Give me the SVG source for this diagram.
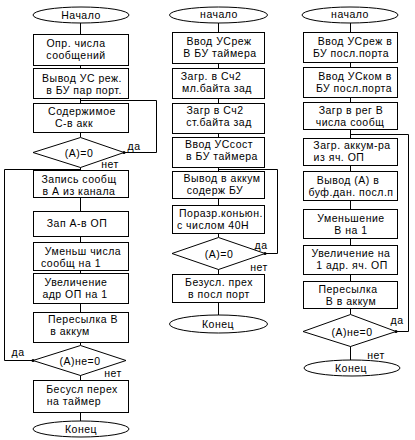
<svg xmlns="http://www.w3.org/2000/svg" width="415" height="440" viewBox="0 0 415 440">
<style>
.n{fill:#fff;stroke:#000;stroke-width:1}
.c{fill:none;stroke:#000;stroke-width:1}
text{font-family:"Liberation Sans",Arial,sans-serif;font-size:10.5px;letter-spacing:0.5px;fill:#000;text-anchor:middle}
.dot{fill:#000}
</style>
<rect width="415" height="440" fill="#fff"/>
<g id="connectors">
<path class="c" d="M80.5 23V34M80.5 65V68M80.5 98V103M80.5 100.5H156.5V152.5H124M80.5 132V137M80.5 167V170M80.5 169.5H4.5V360.5H33M80.5 197V211M80.5 236V242M80.5 270V273M80.5 303V312M80.5 342V345M80.5 375V380M80.5 412V421"/>
<path class="c" d="M218.5 23V32M218.5 63V68M218.5 98V103M218.5 133V137M218.5 167V171M218.5 169.5H277.5V253.5H265M218.5 198V205M218.5 233V237M218.5 269V274M218.5 302V315"/>
<path class="c" d="M350.5 23V32M350.5 62V67M350.5 97V102M350.5 129V138M350.5 134.5H408.5V331.5H396M350.5 165V171M350.5 200V209M350.5 238V245M350.5 274V281M350.5 308V314M350.5 346V360"/>
<circle class="dot" cx="124" cy="152.5" r="1.5"/>
<circle class="dot" cx="265" cy="253.5" r="1.5"/>
<circle class="dot" cx="396" cy="331.5" r="1.5"/>
<circle class="dot" cx="33" cy="360.5" r="1.5"/>
<text x="134" y="150">да</text>
<text x="110" y="168">нет</text>
<text x="18" y="356">да</text>
<text x="113" y="377">нет</text>
<text x="261" y="249">да</text>
<text x="259" y="271">нет</text>
<text x="397" y="324">да</text>
<text x="376" y="359">нет</text>
</g>
<g id="l-start"><ellipse class="n" cx="81" cy="15" rx="48" ry="8"/><text x="81" y="19">Начало</text></g>
<g id="l-1"><rect class="n" x="33.5" y="34.5" width="95" height="31"/><text x="76" y="47">Опр. числа</text><text x="76" y="59">сообщений</text></g>
<g id="l-2"><rect class="n" x="33.5" y="68.5" width="95" height="30"/><text x="82" y="82">Вывод УС реж.</text><text x="84" y="94"> в БУ пар порт.</text></g>
<g id="l-3"><rect class="n" x="33.5" y="103.5" width="95" height="29"/><text x="82" y="115">Содержимое</text><text x="74" y="127">С-в акк</text></g>
<g id="l-d1"><polygon class="n" points="80.5,137.5 124,152.5 80.5,167.5 33,152.5"/><text x="79" y="157">(A)=0</text></g>
<g id="l-4"><rect class="n" x="33.5" y="170.5" width="95" height="27"/><text x="79" y="183">Запись сообщ</text><text x="79" y="195">в А из канала</text></g>
<g id="l-5"><rect class="n" x="33.5" y="211.5" width="95" height="25"/><text x="77" y="227">Зап А-в ОП</text></g>
<g id="l-6"><rect class="n" x="33.5" y="242.5" width="95" height="28"/><text x="83" y="255">Уменьш числа</text><text x="71" y="267">сообщ на 1</text></g>
<g id="l-7"><rect class="n" x="33.5" y="273.5" width="95" height="30"/><text x="76" y="286">Увеличение</text><text x="75" y="298">адр ОП на 1</text></g>
<g id="l-8"><rect class="n" x="33.5" y="312.5" width="95" height="30"/><text x="83" y="323">Пересылка В</text><text x="70" y="335">в аккум</text></g>
<g id="l-d2"><polygon class="n" points="80.5,345.5 126,360.5 80.5,375.5 33,360.5"/><text x="80" y="365">(А)не=0</text></g>
<g id="l-9"><rect class="n" x="33.5" y="380.5" width="95" height="32"/><text x="82" y="393">Бесусл перех</text><text x="74" y="405">на таймер</text></g>
<g id="l-end"><ellipse class="n" cx="81" cy="429" rx="48" ry="8"/><text x="81" y="433">Конец</text></g>

<g id="m-start"><ellipse class="n" cx="218.5" cy="15" rx="49" ry="8"/><text x="219" y="18">начало</text></g>
<g id="m-1"><rect class="n" x="172.5" y="32.5" width="92" height="31"/><text x="219" y="45">Ввод УСреж</text><text x="220" y="57">В БУ таймера</text></g>
<g id="m-2"><rect class="n" x="172.5" y="68.5" width="92" height="30"/><text x="211" y="80">Загр. в Сч2</text><text x="217" y="92">мл.байта зад</text></g>
<g id="m-3"><rect class="n" x="172.5" y="103.5" width="92" height="30"/><text x="215" y="114">Загр в Сч2</text><text x="219" y="126">ст.байта зад</text></g>
<g id="m-4"><rect class="n" x="172.5" y="137.5" width="92" height="30"/><text x="219" y="148">Ввод УСсост</text><text x="222" y="160">в БУ таймера</text></g>
<g id="m-5"><rect class="n" x="172.5" y="171.5" width="92" height="27"/><text x="222" y="182">Вывод в аккум</text><text x="215" y="194">содерж БУ</text></g>
<g id="m-6"><rect class="n" x="172.5" y="205.5" width="92" height="28"/><text x="221" y="217">Поразр.коньюн.</text><text x="213" y="229">с числом 40H</text></g>
<g id="m-d"><polygon class="n" points="218.5,237.5 265,253.5 218.5,269.5 172,253.5"/><text x="219" y="258">(A)=0</text></g>
<g id="m-7"><rect class="n" x="172.5" y="274.5" width="92" height="28"/><text x="219" y="286">Безусл. прех</text><text x="219" y="298">в посл порт</text></g>
<g id="m-end"><ellipse class="n" cx="218.5" cy="324" rx="49" ry="9"/><text x="218" y="328">Конец</text></g>

<g id="r-start"><ellipse class="n" cx="350" cy="15" rx="48" ry="8"/><text x="350" y="18">начало</text></g>
<g id="r-1"><rect class="n" x="303.5" y="32.5" width="94" height="30"/><text x="355" y="45">Ввод УСреж в</text><text x="351" y="57">БУ посл.порта</text></g>
<g id="r-2"><rect class="n" x="303.5" y="67.5" width="94" height="30"/><text x="355" y="80">Ввод УСком в</text><text x="354" y="92">БУ посл.порта</text></g>
<g id="r-3"><rect class="n" x="303.5" y="102.5" width="94" height="27"/><text x="351" y="114">Загр в рег В</text><text x="350" y="126">числа сообщ</text></g>
<g id="r-4"><rect class="n" x="303.5" y="138.5" width="94" height="27"/><text x="352" y="149">Загр. аккум-ра</text><text x="339" y="161">из яч. ОП</text></g>
<g id="r-5"><rect class="n" x="303.5" y="171.5" width="94" height="29"/><text x="348" y="184">Вывод (А) в</text><text x="351" y="196">буф.дан. посл.п</text></g>
<g id="r-6"><rect class="n" x="303.5" y="209.5" width="94" height="29"/><text x="351" y="222">Уменьшение</text><text x="351" y="234">В на 1</text></g>
<g id="r-7"><rect class="n" x="303.5" y="245.5" width="94" height="29"/><text x="351" y="257">Увеличение на</text><text x="352" y="269">1 адр. яч. ОП</text></g>
<g id="r-8"><rect class="n" x="303.5" y="281.5" width="94" height="27"/><text x="348" y="293">Пересылка</text><text x="351" y="305">В в аккум</text></g>
<g id="r-d"><polygon class="n" points="350.5,314.5 396,331.5 350.5,346.5 303,331.5"/><text x="352" y="336">(А)не=0</text></g>
<g id="r-end"><ellipse class="n" cx="352" cy="368" rx="48" ry="8"/><text x="351" y="372">Конец</text></g>
</svg>
